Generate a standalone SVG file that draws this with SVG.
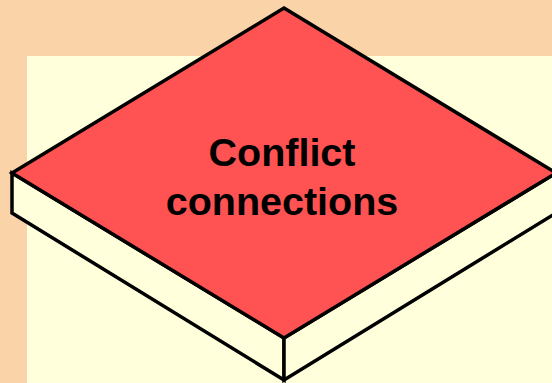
<svg xmlns="http://www.w3.org/2000/svg" width="552" height="383" viewBox="0 0 552 383">
<style>
.edge{stroke:#000;stroke-width:3.5;stroke-linejoin:miter;stroke-linecap:butt}
.side{fill:#FFFFDC}
.top{fill:#FF5252}
.lbl{font-family:"Liberation Sans",Arial,sans-serif;font-weight:bold;font-size:39.5px;fill:#000;text-anchor:middle}
</style>
<rect x="0" y="0" width="552" height="383" fill="#FAD3A8"/>
<rect x="27" y="56" width="525" height="327" fill="#FFFFDC"/>
<g id="slab">
<polygon class="side edge" points="12,173 284,338 284,380 12,213"/>
<polygon class="side edge" points="284,338 556,173 556,213 284,380"/>
<polygon class="top edge" points="284,8 556,173 284,338 12,173"/>
</g>
<g id="label">
<text class="lbl" x="282" y="166">Conflict</text>
<text class="lbl" x="282" y="215">connections</text>
</g>
</svg>
